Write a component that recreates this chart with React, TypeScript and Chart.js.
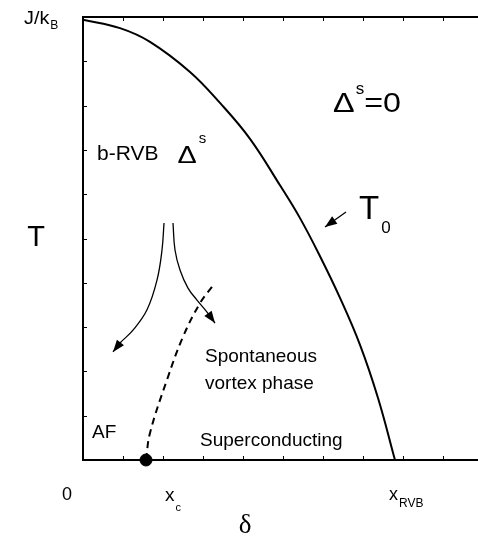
import React, { useEffect, useRef } from "react";
import { Chart, registerables } from "chart.js";

Chart.register(...registerables);

// Phase boundary T0(δ)
const deltaT0 = [0, 0.925, 1.675, 2.675, 3.425, 4.175, 4.925, 5.425, 5.925, 6.425, 6.925, 7.375, 7.8];
const tempT0 = [9.94, 9.75, 9.44, 8.76, 8.06, 7.25, 6.2, 5.46, 4.6, 3.66, 2.6, 1.4, 0];

// Dashed boundary of spontaneous vortex phase
const deltaVortex = [1.575, 1.675, 2.1, 2.5, 2.925, 3.225];
const tempVortex = [0, 0.61, 1.81, 2.78, 3.54, 3.91];

// Curved arrows
const deltaArrowL = [2.025, 1.975, 1.85, 1.6, 1.25, 0.925, 0.75];
const tempArrowL = [5.35, 4.74, 4.06, 3.39, 2.93, 2.64, 2.44];
const deltaArrowR = [2.25, 2.3, 2.425, 2.625, 2.85, 3.1, 3.3];
const tempArrowR = [5.35, 4.74, 4.29, 3.88, 3.61, 3.34, 3.09];

// T0 pointer
const deltaPointer = [6.575, 6.05];
const tempPointer = [5.6, 5.26];

// Critical point x_c
const deltaXc = [1.575];
const tempXc = [0];

const xMax = 9.875;
const yMax = 10;
const xTickValues = [1, 2, 3, 4, 5, 6, 7, 8, 9];
const yTickValues = [1, 2, 3, 4, 5, 6, 7, 8, 9];

const pts = (xs: number[], ys: number[]) => xs.map((x, i) => ({ x, y: ys[i] }));

const SANS = '"Liberation Sans", Arial, sans-serif';
const SERIF = '"Liberation Serif", "DejaVu Serif", serif';

type Run = { t: string; size: number; dy?: number; dx?: number; font?: string; sx?: number };
type Label = { x: number; y: number; runs: Run[]; align?: "left" | "center" };

const labels: Label[] = [
  { x: 24, y: 24, runs: [{ t: "J/k", size: 18, sx: 1.1 }, { t: "B", size: 12, dy: 5, dx: 1 }] },
  { x: 36, y: 246, align: "center", runs: [{ t: "T", size: 29 }] },
  { x: 333, y: 112, runs: [{ t: "Δ", size: 27, sx: 1.2 }, { t: "s", size: 17, dy: -18, dx: 1 }, { t: "=0", size: 28, dx: 0, sx: 1.15 }] },
  { x: 97, y: 160, runs: [{ t: "b-RVB", size: 21 }, { t: "Δ", size: 23, dx: 19, dy: 3, sx: 1.25 }, { t: "s", size: 15, dy: -17, dx: 2 }] },
  { x: 359, y: 219, runs: [{ t: "T", size: 33 }, { t: "0", size: 17, dy: 14, dx: 2 }] },
  { x: 205, y: 362, runs: [{ t: "Spontaneous", size: 19 }] },
  { x: 205, y: 389, runs: [{ t: "vortex phase", size: 19 }] },
  { x: 200, y: 446, runs: [{ t: "Superconducting", size: 19 }] },
  { x: 92, y: 438, runs: [{ t: "AF", size: 19 }] },
  { x: 62, y: 500, runs: [{ t: "0", size: 18 }] },
  { x: 165, y: 501, runs: [{ t: "x", size: 19 }, { t: "c", size: 11, dy: 10, dx: 1 }] },
  { x: 389, y: 500, runs: [{ t: "x", size: 18 }, { t: "RVB", size: 12, dy: 7, dx: 1 }] },
  { x: 245, y: 533, align: "center", runs: [{ t: "δ", size: 27, font: SERIF }] },
];

const overlayPlugin = {
  id: "overlay",
  afterDatasetsDraw(chart: any) {
    const ctx = chart.ctx as CanvasRenderingContext2D;
    const { left, right, top, bottom } = chart.chartArea;
    const xs = chart.scales.x;
    const ys = chart.scales.y;
    ctx.save();
    ctx.strokeStyle = "#000";
    ctx.fillStyle = "#000";
    // top frame line
    ctx.lineWidth = 2;
    ctx.beginPath();
    ctx.moveTo(left - 1, top);
    ctx.lineTo(right, top);
    ctx.stroke();
    // inward ticks
    ctx.lineWidth = 1;
    ctx.beginPath();
    xTickValues.forEach((v) => {
      const px = Math.round(xs.getPixelForValue(v)) + 0.5;
      ctx.moveTo(px, bottom);
      ctx.lineTo(px, bottom - 4);
      ctx.moveTo(px, top);
      ctx.lineTo(px, top + 4);
    });
    yTickValues.forEach((v) => {
      const py = Math.round(ys.getPixelForValue(v)) + 0.5;
      ctx.moveTo(left, py);
      ctx.lineTo(left + 4, py);
    });
    ctx.stroke();
    // arrowheads
    chart.data.datasets.forEach((ds: any, i: number) => {
      if (!ds.arrow) return;
      const meta = chart.getDatasetMeta(i);
      const n = meta.data.length;
      const p1 = meta.data[n - 2];
      const p2 = meta.data[n - 1];
      const ang = Math.atan2(p2.y - p1.y, p2.x - p1.x);
      const len = 12;
      const hw = 4.5;
      ctx.beginPath();
      ctx.moveTo(p2.x, p2.y);
      ctx.lineTo(p2.x - len * Math.cos(ang) + hw * Math.sin(ang), p2.y - len * Math.sin(ang) - hw * Math.cos(ang));
      ctx.lineTo(p2.x - len * Math.cos(ang) - hw * Math.sin(ang), p2.y - len * Math.sin(ang) + hw * Math.cos(ang));
      ctx.closePath();
      ctx.fill();
    });
    // text labels
    ctx.textBaseline = "alphabetic";
    ctx.textAlign = "left";
    labels.forEach((lb) => {
      let total = 0;
      lb.runs.forEach((r) => {
        ctx.font = `${r.size}px ${r.font || SANS}`;
        total += (r.dx || 0) + ctx.measureText(r.t).width * (r.sx || 1);
      });
      let cx = lb.align === "center" ? lb.x - total / 2 : lb.x;
      lb.runs.forEach((r) => {
        ctx.font = `${r.size}px ${r.font || SANS}`;
        cx += r.dx || 0;
        const sx = r.sx || 1;
        ctx.save();
        ctx.translate(cx, lb.y + (r.dy || 0));
        ctx.scale(sx, 1);
        ctx.fillText(r.t, 0, 0);
        ctx.restore();
        cx += ctx.measureText(r.t).width * sx;
      });
    });
    ctx.restore();
  },
};

export default function App() {
  const ref = useRef<HTMLCanvasElement | null>(null);
  useEffect(() => {
    if (!ref.current) return;
    const lineDs = (data: any, extra: any = {}) => ({
      data,
      showLine: true,
      borderColor: "#000",
      backgroundColor: "#000",
      pointRadius: 0,
      pointHoverRadius: 0,
      borderWidth: 2,
      fill: false,
      clip: false,
      ...extra,
    });
    const chart = new Chart(ref.current, {
      type: "scatter",
      data: {
        datasets: [
          lineDs(pts(deltaT0, tempT0), { tension: 0.4 }),
          lineDs(pts(deltaVortex, tempVortex), { borderDash: [7, 5], tension: 0.4 }),
          lineDs(pts(deltaArrowL, tempArrowL), { borderWidth: 1.3, tension: 0.4, arrow: true }),
          lineDs(pts(deltaArrowR, tempArrowR), { borderWidth: 1.3, tension: 0.4, arrow: true }),
          lineDs(pts(deltaPointer, tempPointer), { borderWidth: 1.3, arrow: true }),
          {
            data: pts(deltaXc, tempXc),
            showLine: false,
            pointRadius: 6,
            pointBackgroundColor: "#000",
            pointBorderColor: "#000",
            clip: false,
          } as any,
        ] as any,
      },
      options: {
        animation: false,
        responsive: false,
        devicePixelRatio: 1,
        layout: { autoPadding: false, padding: { left: 83, top: 17, right: 0, bottom: 79 } },
        plugins: { legend: { display: false }, tooltip: { enabled: false } },
        events: [],
        scales: {
          x: {
            type: "linear",
            min: 0,
            max: xMax,
            ticks: { display: false },
            grid: { display: false },
            border: { display: true, color: "#000", width: 2 },
            afterFit: (s: any) => { s.height = 0; s.paddingLeft = 0; s.paddingRight = 0; },
          },
          y: {
            type: "linear",
            min: 0,
            max: yMax,
            ticks: { display: false },
            grid: { display: false },
            border: { display: true, color: "#000", width: 2 },
            afterFit: (s: any) => { s.width = 0; s.paddingTop = 0; s.paddingBottom = 0; },
          },
        },
      } as any,
      plugins: [overlayPlugin],
    });
    return () => chart.destroy();
  }, []);
  return (
    <div style={{ position: "absolute", left: 0, top: 0, width: 478, height: 539, background: "#fff" }}>
      <canvas ref={ref} width={478} height={539} style={{ display: "block" }} />
    </div>
  );
}
